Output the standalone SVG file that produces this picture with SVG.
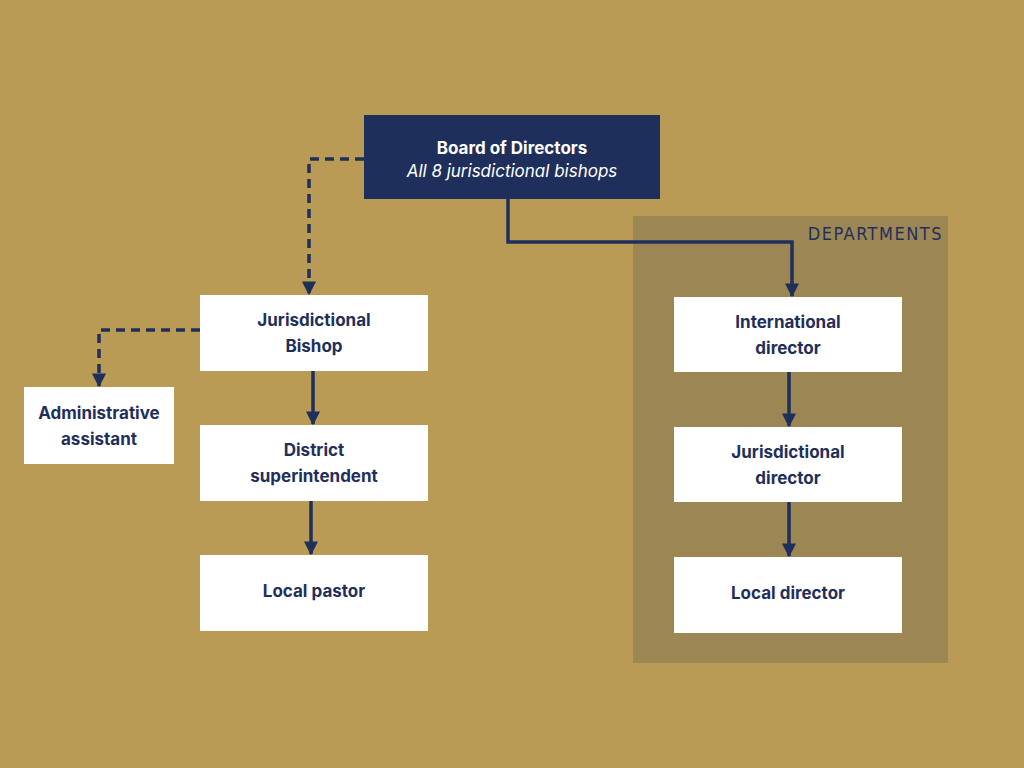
<svg xmlns="http://www.w3.org/2000/svg" width="1024" height="768" viewBox="0 0 1024 768">
<defs>
<marker id="ah" viewBox="0 0 10 10" refX="9" refY="5" markerWidth="4" markerHeight="4" orient="auto-start-reverse" markerUnits="strokeWidth"><path d="M0,0 L10,5 L0,10 z" fill="#1F2F5C"/></marker>
<style>
.box{fill:#ffffff}
.t{font-family:Inter,"Liberation Sans",sans-serif;font-size:17px;font-weight:700;fill:#1F2F5C;text-anchor:middle}
.c{fill:none;stroke:#1F2F5C;stroke-width:3.5}
.d{stroke-dasharray:9,6}
</style>
</defs>
<rect width="1024" height="768" fill="#B99B55"/>
<g id="departments"><rect x="633" y="216" width="315" height="447" fill="#9C8754"/>
<text x="943" y="240" font-family="'DejaVu Sans Condensed','Liberation Sans Narrow',sans-serif" font-size="18" letter-spacing="1.5" fill="#1F2F5C" text-anchor="end">DEPARTMENTS</text></g>
<g id="board"><rect x="364" y="115" width="296" height="84" fill="#1F2F5C"/>
<text x="512" y="154" class="t" style="fill:#fff">Board of Directors</text>
<text x="512" y="177" class="t" style="fill:#fff;font-weight:400;font-style:italic">All 8 jurisdictional bishops</text></g>
<g id="bishop"><rect class="box" x="200" y="295" width="228" height="76"/><text class="t" x="314" y="326">Jurisdictional</text><text class="t" x="314" y="352">Bishop</text></g>
<g id="admin"><rect class="box" x="24" y="387" width="150" height="77"/><text class="t" x="99" y="419">Administrative</text><text class="t" x="99" y="445">assistant</text></g>
<g id="district"><rect class="box" x="200" y="425" width="228" height="76"/><text class="t" x="314" y="456">District</text><text class="t" x="314" y="482">superintendent</text></g>
<g id="pastor"><rect class="box" x="200" y="555" width="228" height="76"/><text class="t" x="314" y="597">Local pastor</text></g>
<g id="intl"><rect class="box" x="674" y="297" width="228" height="75"/><text class="t" x="788" y="328">International</text><text class="t" x="788" y="354">director</text></g>
<g id="jdir"><rect class="box" x="674" y="427" width="228" height="75"/><text class="t" x="788" y="458">Jurisdictional</text><text class="t" x="788" y="484">director</text></g>
<g id="ldir"><rect class="box" x="674" y="557" width="228" height="76"/><text class="t" x="788" y="599">Local director</text></g>
<g id="connectors">
<path class="c d" d="M364,159 H309 V294" marker-end="url(#ah)"/>
<path class="c d" d="M200,330 H99 V386" marker-end="url(#ah)"/>
<path class="c" d="M313,371 V424" marker-end="url(#ah)"/>
<path class="c" d="M311,501 V554" marker-end="url(#ah)"/>
<path class="c" d="M508,199 V242 H792 V296" marker-end="url(#ah)"/>
<path class="c" d="M789,372 V426" marker-end="url(#ah)"/>
<path class="c" d="M789,502 V556" marker-end="url(#ah)"/>
</g>
</svg>
